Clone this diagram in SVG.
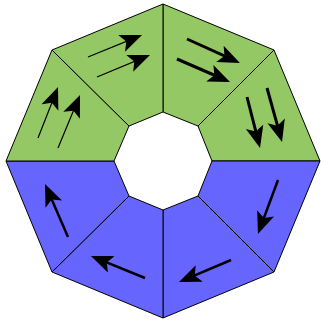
<svg xmlns="http://www.w3.org/2000/svg" width="321" height="322" viewBox="0 0 321 322">
<style>
.g{fill:#94C864;stroke:#000;stroke-width:1;stroke-linejoin:miter}
.b{fill:#6666FF;stroke:#000;stroke-width:1;stroke-linejoin:miter}
.a{stroke:#000;fill:none;marker-end:url(#ah)}
</style>
<defs>
<marker id="ah" markerUnits="userSpaceOnUse" markerWidth="24" markerHeight="19" refX="17" refY="9" orient="auto" viewBox="0 0 24 19">
<path d="M0,0 L22,9 L0,18 L5,9 z" fill="#000"/>
</marker>
</defs>
<rect width="321" height="322" fill="#fff"/>
<g id="seg-top-right"><polygon class="g" points="163,4 274,50 198,126 163,112"/></g>
<g id="seg-right-upper"><polygon class="g" points="274,50 320,161 212,161 198,126"/></g>
<g id="seg-right-lower"><polygon class="b" points="320,161 274,272 198,196 212,161"/></g>
<g id="seg-bottom-right"><polygon class="b" points="274,272 163,318 163,210 198,196"/></g>
<g id="seg-bottom-left"><polygon class="b" points="163,318 52,272 129,196 163,210"/></g>
<g id="seg-left-lower"><polygon class="b" points="52,272 6,161 114,161 129,196"/></g>
<g id="seg-left-upper"><polygon class="g" points="6,161 52,50 129,126 114,161"/></g>
<g id="seg-top-left"><polygon class="g" points="52,50 163,4 163,112 129,126"/></g>
<g id="connectors">
<line class="a" stroke-width="3" x1="187" y1="39" x2="235.4" y2="60.9"/>
<line class="a" stroke-width="3" x1="177" y1="59" x2="225.4" y2="80"/>
<line class="a" stroke-width="3" x1="247" y1="97" x2="258.8" y2="143.2"/>
<line class="a" stroke-width="3" x1="267" y1="88" x2="280.7" y2="137.2"/>
<line class="a" stroke-width="2.5" x1="278" y1="180" x2="259.7" y2="229.3"/>
<line class="a" stroke-width="2.5" x1="231" y1="260" x2="183.6" y2="280.1"/>
<line class="a" stroke-width="2.5" x1="145" y1="278" x2="95.6" y2="257.9"/>
<line class="a" stroke-width="2.5" x1="68" y1="237" x2="47" y2="188.6"/>
<line class="a" stroke-width="1.2" x1="38" y1="138" x2="56.2" y2="91.7"/>
<line class="a" stroke-width="1.2" x1="58" y1="148" x2="78.1" y2="99.6"/>
<line class="a" stroke-width="1.2" x1="88" y1="57" x2="137.4" y2="36.9"/>
<line class="a" stroke-width="1.2" x1="97" y1="77" x2="145.4" y2="56.9"/>
</g>
</svg>
